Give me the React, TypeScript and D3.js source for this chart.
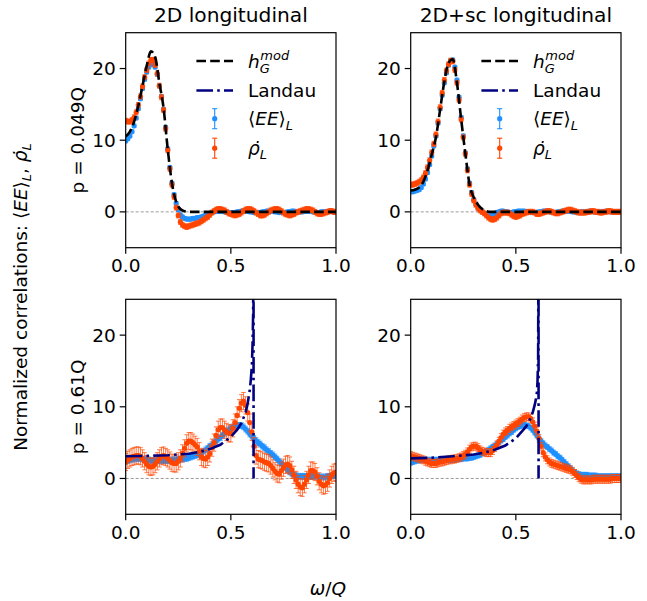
import React from "react";
import * as d3 from "d3";

// Frequency grid (ω/Q) shared by all measured series, step 0.01
const OMEGA = Array.from({ length: 101 }, (_, i) => +(i / 100).toFixed(2));

const X_TICKS = [0, 0.5, 1];
const X_TICK_LABELS = ["0.0", "0.5", "1.0"];
const Y_TICKS = [0, 10, 20];
const COL_TITLES = ["2D longitudinal", "2D+sc longitudinal"];
const ROW_LABELS = ["p = 0.049Q", "p = 0.61Q"];

// p = 0.049Q, 2D
const EE_TL = [
  9.9, 10.2, 10.6, 11.2, 12.0, 13.1, 14.4, 15.8, 17.2, 18.5,
  19.5, 20.2, 20.6, 20.6, 20.2, 19.2, 17.6, 16.1, 14.3, 11.8,
  8.8, 6.2, 4.0, 2.4, 1.2, 0.3, -0.4, -0.7, -0.9, -1.0,
  -1.0, -1.0, -0.9, -0.9, -0.8, -0.8, -0.7, -0.6, -0.5, -0.4,
  -0.2, -0.1, 0.0, 0.1, 0.1, 0.1, 0.1, 0.0, 0.0, -0.1,
  -0.1, -0.1, -0.1, 0.0, 0.0, 0.1, 0.1, 0.1, 0.1, 0.0,
  0.0, -0.1, -0.1, -0.1, -0.1, 0.0, 0.0, 0.1, 0.1, 0.1,
  0.1, 0.0, 0.0, -0.1, -0.1, -0.1, -0.1, 0.0, 0.0, 0.1,
  0.1, 0.0, 0.0, 0.0, 0.0, 0.1, 0.1, 0.1, 0.1, 0.0,
  0.0, -0.1, -0.1, 0.0, 0.0, 0.0, 0.0, 0.1, 0.1, 0.0,
  0.0,
];
const RHO_TL = [
  12.7, 12.6, 12.6, 12.8, 13.2, 13.9, 14.9, 16.1, 17.5, 18.8,
  19.8, 20.7, 21.2, 21.2, 20.5, 19.3, 17.6, 16.0, 14.2, 11.6,
  8.6, 6.0, 3.8, 2.1, 0.6, -0.5, -1.4, -1.8, -2.0, -2.1,
  -2.0, -1.9, -1.8, -1.7, -1.6, -1.5, -1.3, -1.1, -0.9, -0.7,
  -0.4, -0.1, 0.1, 0.3, 0.4, 0.4, 0.3, 0.2, 0.0, -0.2,
  -0.3, -0.4, -0.5, -0.4, -0.3, -0.1, 0.1, 0.3, 0.4, 0.4,
  0.3, 0.1, -0.1, -0.3, -0.5, -0.5, -0.4, -0.2, 0.0, 0.2,
  0.3, 0.4, 0.4, 0.3, 0.1, -0.1, -0.3, -0.4, -0.5, -0.4,
  -0.3, -0.1, 0.0, 0.1, 0.2, 0.3, 0.4, 0.4, 0.3, 0.2,
  0.0, -0.2, -0.3, -0.3, -0.2, -0.1, 0.0, 0.1, 0.1, 0.0,
  0.0,
];

// p = 0.049Q, 2D+sc
const EE_TR = [
  2.8, 2.8, 2.9, 3.0, 3.1, 3.4, 3.9, 4.6, 5.5, 6.6,
  7.8, 9.2, 10.6, 12.4, 14.4, 16.3, 18.0, 19.4, 20.5, 21.1,
  21.2, 20.2, 18.4, 16.0, 13.2, 10.6, 8.2, 6.0, 4.0, 2.7,
  1.7, 1.1, 0.6, 0.3, 0.0, -0.2, -0.3, -0.4, -0.5, -0.4,
  -0.3, -0.1, 0.0, 0.1, 0.1, 0.0, 0.0, -0.1, -0.1, 0.0,
  0.0, 0.1, 0.1, 0.1, 0.1, 0.0, 0.0, -0.1, -0.1, -0.1,
  -0.1, 0.0, 0.0, 0.1, 0.1, 0.1, 0.0, 0.0, -0.1, -0.1,
  0.0, 0.0, 0.1, 0.1, 0.1, 0.1, 0.1, 0.0, 0.0, -0.1,
  -0.1, 0.0, 0.0, 0.0, 0.0, 0.1, 0.1, 0.0, 0.0, 0.0,
  0.0, 0.0, 0.0, 0.1, 0.1, 0.0, 0.0, 0.0, 0.0, 0.0,
  0.0,
];
const RHO_TR = [
  3.8, 3.8, 3.9, 4.0, 4.2, 4.4, 4.8, 5.4, 6.2, 7.2,
  8.3, 9.5, 10.8, 12.6, 14.6, 16.6, 18.4, 19.7, 20.6, 21.1,
  21.0, 19.8, 18.0, 15.6, 12.9, 10.4, 8.1, 5.8, 3.8, 2.5,
  1.6, 1.0, 0.5, 0.2, 0.0, -0.2, -0.5, -0.8, -1.0, -1.1,
  -1.0, -0.8, -0.5, -0.2, -0.1, -0.1, -0.1, -0.2, -0.4, -0.6,
  -0.7, -0.6, -0.5, -0.3, -0.2, -0.1, 0.0, 0.0, 0.0, -0.1,
  -0.3, -0.3, -0.2, -0.1, 0.0, 0.1, 0.1, 0.0, -0.1, -0.2,
  -0.2, -0.1, 0.0, 0.1, 0.2, 0.3, 0.3, 0.2, 0.1, 0.0,
  -0.1, -0.1, -0.1, -0.1, 0.0, 0.0, 0.1, 0.1, 0.0, 0.0,
  -0.1, -0.1, 0.0, 0.0, 0.1, 0.1, 0.0, 0.0, 0.0, 0.0,
  0.0,
];

// Gaussian model fit h_G^mod (top row)
const HG_W = [0, 0.02, 0.04, 0.06, 0.08, 0.1, 0.12, 0.14, 0.16, 0.18, 0.2, 0.22, 0.24, 0.26, 0.28, 0.3, 0.32, 0.34, 0.36, 0.38, 0.4, 1.0];
const HG_TL = [10.5, 11.2, 12.6, 14.8, 17.6, 20.4, 22.4, 21.6, 18.0, 14.5, 8.7, 4.0, 1.4, 0.4, 0.1, 0, 0, 0, 0, 0, 0, 0];
const HG_TR = [3.0, 3.1, 3.4, 4.2, 5.8, 8.0, 10.4, 14.3, 18.2, 20.8, 21.3, 18.0, 12.9, 8.1, 3.8, 2.0, 1.0, 0.4, 0.1, 0.0, 0, 0];

// p = 0.61Q, 2D
const EE_BL = [
  2.4, 2.5, 2.6, 2.7, 2.7, 2.8, 2.8, 2.8, 2.7, 2.7,
  2.6, 2.6, 2.5, 2.5, 2.5, 2.5, 2.5, 2.5, 2.5, 2.5,
  2.5, 2.5, 2.6, 2.6, 2.6, 2.7, 2.7, 2.7, 2.8, 2.8,
  2.9, 3.0, 3.1, 3.2, 3.3, 3.4, 3.6, 3.8, 4.0, 4.2,
  4.5, 4.7, 5.0, 5.2, 5.5, 5.7, 6.0, 6.3, 6.6, 6.8,
  7.0, 7.2, 7.3, 7.4, 7.4, 7.4, 7.2, 6.9, 6.6, 6.2,
  5.9, 5.6, 5.3, 5.0, 4.8, 4.5, 4.3, 4.0, 3.8, 3.5,
  3.3, 3.0, 2.7, 2.4, 2.1, 1.8, 1.5, 1.2, 0.9, 0.7,
  0.5, 0.4, 0.3, 0.3, 0.3, 0.3, 0.3, 0.3, 0.3, 0.3,
  0.3, 0.3, 0.2, 0.2, 0.2, 0.2, 0.3, 0.3, 0.4, 0.4,
  0.5,
];
const RHO_BL = [
  2.3, 2.6, 2.8, 3.0, 3.1, 3.2, 3.2, 3.1, 2.8, 2.4,
  2.0, 1.7, 1.6, 1.7, 2.0, 2.4, 2.8, 3.1, 3.2, 3.0,
  2.8, 2.5, 2.2, 2.1, 2.1, 2.4, 2.8, 3.5, 4.2, 4.9,
  5.2, 5.2, 5.0, 4.7, 4.4, 3.8, 3.0, 2.8, 2.7, 3.0,
  3.5, 4.3, 5.0, 6.0, 6.8, 7.1, 7.1, 6.8, 6.5, 6.3,
  6.3, 7.0, 7.8, 8.8, 9.8, 10.5, 10.8, 10.2, 9.2, 7.8,
  6.5, 4.5, 3.2, 2.7, 2.6, 2.5, 2.3, 2.2, 2.1, 1.8,
  1.4, 1.0, 0.7, 0.6, 1.1, 1.5, 1.9, 2.0, 1.8, 1.2,
  0.5, -0.2, -0.8, -1.2, -1.3, -0.8, -0.2, 0.5, 1.1, 1.1,
  0.9, 0.3, -0.4, -0.8, -1.0, -0.9, -0.6, 0.0, 0.5, 0.8,
  0.9,
];

// p = 0.61Q, 2D+sc
const EE_BR = [
  2.2, 2.3, 2.4, 2.5, 2.5, 2.6, 2.6, 2.6, 2.6, 2.6,
  2.6, 2.6, 2.6, 2.6, 2.6, 2.6, 2.6, 2.6, 2.6, 2.6,
  2.6, 2.6, 2.7, 2.7, 2.7, 2.8, 2.8, 2.8, 2.9, 2.9,
  3.0, 3.1, 3.2, 3.3, 3.5, 3.6, 3.8, 4.0, 4.2, 4.4,
  4.6, 4.8, 5.1, 5.3, 5.5, 5.8, 6.0, 6.3, 6.5, 6.8,
  7.0, 7.2, 7.3, 7.4, 7.5, 7.4, 7.3, 7.1, 6.8, 6.4,
  6.0, 5.6, 5.2, 4.9, 4.6, 4.4, 4.1, 3.9, 3.6, 3.4,
  3.1, 2.9, 2.6, 2.3, 2.0, 1.7, 1.4, 1.1, 0.9, 0.7,
  0.6, 0.5, 0.5, 0.5, 0.5, 0.4, 0.4, 0.4, 0.4, 0.3,
  0.3, 0.3, 0.3, 0.3, 0.3, 0.3, 0.3, 0.3, 0.3, 0.3,
  0.3,
];
const RHO_BR = [
  3.2, 3.1, 3.0, 2.9, 2.8, 2.7, 2.6, 2.4, 2.3, 2.2,
  2.1, 2.1, 2.1, 2.2, 2.3, 2.3, 2.4, 2.5, 2.6, 2.6,
  2.7, 2.7, 2.8, 2.9, 3.0, 3.2, 3.4, 3.7, 4.1, 4.4,
  4.5, 4.5, 4.3, 4.0, 3.8, 3.7, 3.6, 3.6, 3.6, 3.9,
  4.3, 4.7, 5.2, 5.7, 6.2, 6.5, 6.7, 7.0, 7.2, 7.4,
  7.6, 7.8, 8.0, 8.3, 8.5, 8.6, 8.6, 8.4, 7.9, 7.3,
  6.6, 5.6, 4.5, 3.6, 3.0, 2.6, 2.3, 2.1, 2.0, 1.9,
  1.8, 1.7, 1.6, 1.5, 1.4, 1.3, 1.2, 1.0, 0.7, 0.4,
  0.1, -0.1, -0.2, -0.2, -0.2, -0.2, -0.2, -0.1, -0.1, -0.1,
  -0.1, -0.1, -0.1, -0.1, -0.1, -0.1, 0.0, 0.0, 0.0, 0.0,
  0.0,
];

// Landau-damping curve, cut off at ω = p
const LANDAU_W = [0, 0.1, 0.2, 0.3, 0.35, 0.4, 0.45, 0.5, 0.53, 0.55, 0.57, 0.58, 0.59, 0.595, 0.6, 0.603, 0.606, 0.608, 0.608];
const LANDAU_BL = [3.1, 3.15, 3.25, 3.45, 3.7, 4.1, 4.7, 5.8, 6.8, 7.7, 9.2, 10.5, 12.3, 13.8, 15.8, 18.5, 23, 40, 0];
const LANDAU_BR = [2.8, 2.9, 3.1, 3.35, 3.6, 4.0, 4.6, 5.6, 6.6, 7.3, 8.4, 9.2, 10.3, 11.0, 12.0, 13.5, 17, 40, 0];

// Statistical error half-widths per panel (TL, TR, BL, BR)
const ERR_EE = [0.25, 0.25, 0.4, 0.35];
const ERR_RHO = [0.35, 0.35, 1.2, 0.55];

const W = 647;
const H = 601;
const LEFTS = [125.7, 410.7];
const TOPS = [32.7, 299.3];
const PW = 210.3;
const PH = 215;
const FONT = "DejaVu Sans";
const FS = 18.5;
const BLUE = "#1e90ff";
const RED = "#ff4500";
const NAVY = "#000080";

const PANELS = [
  { key: "tl", col: 0, row: 0, ee: EE_TL, rho: RHO_TL, hg: HG_TL, landau: null as number[] | null, i: 0 },
  { key: "tr", col: 1, row: 0, ee: EE_TR, rho: RHO_TR, hg: HG_TR, landau: null as number[] | null, i: 1 },
  { key: "bl", col: 0, row: 1, ee: EE_BL, rho: RHO_BL, hg: null as number[] | null, landau: LANDAU_BL, i: 2 },
  { key: "br", col: 1, row: 1, ee: EE_BR, rho: RHO_BR, hg: null as number[] | null, landau: LANDAU_BR, i: 3 },
];

function ErrorSeries({ vals, err, color, x, y }: any) {
  return (
    <g>
      <g stroke={color} strokeWidth={0.9} strokeOpacity={0.8}>
        {vals.map((v: number, i: number) => {
          const cx = x(OMEGA[i]);
          const y0 = y(v - err);
          const y1 = y(v + err);
          return (
            <g key={i}>
              <line x1={cx} x2={cx} y1={y0} y2={y1} />
              <line x1={cx - 2.3} x2={cx + 2.3} y1={y0} y2={y0} />
              <line x1={cx - 2.3} x2={cx + 2.3} y1={y1} y2={y1} />
            </g>
          );
        })}
      </g>
      <g fill={color}>
        {vals.map((v: number, i: number) => (
          <circle key={i} cx={x(OMEGA[i])} cy={y(v)} r={2.6} />
        ))}
      </g>
    </g>
  );
}

function Legend({ left, top }: { left: number; top: number }) {
  const lx0 = left + 70.7;
  const lx1 = left + 107.3;
  const mx = (lx0 + lx1) / 2;
  const tx = left + 122.3;
  const rows = [top + 28.3, top + 57.8, top + 86, top + 115.5];
  const sub = 13;
  return (
    <g fontFamily={FONT} fontSize={FS}>
      <line x1={lx0} x2={lx1} y1={rows[0]} y2={rows[0]} stroke="black" strokeWidth={2.6} strokeDasharray="9.6,4.2" />
      <text x={tx} y={rows[0] + 7}>
        <tspan fontStyle="italic">h</tspan>
        <tspan fontStyle="italic" fontSize={sub} dy={4.5}>G</tspan>
        <tspan fontStyle="italic" fontSize={sub} dx={-9.5} dy={-13}>mod</tspan>
      </text>
      <line x1={lx0} x2={lx1} y1={rows[1]} y2={rows[1]} stroke={NAVY} strokeWidth={2.6} strokeDasharray="16.6,4.2,2.6,4.2" />
      <text x={tx} y={rows[1] + 6.5}>Landau</text>
      {[{ c: BLUE, r: rows[2] }, { c: RED, r: rows[3] }].map((h, k) => (
        <g key={k} stroke={h.c} strokeWidth={1.1}>
          <line x1={mx} x2={mx} y1={h.r - 10} y2={h.r + 10} />
          <line x1={mx - 2.5} x2={mx + 2.5} y1={h.r - 10} y2={h.r - 10} />
          <line x1={mx - 2.5} x2={mx + 2.5} y1={h.r + 10} y2={h.r + 10} />
          <circle cx={mx} cy={h.r} r={2.6} fill={h.c} stroke="none" />
        </g>
      ))}
      <text x={tx} y={rows[2] + 6.5}>
        {"⟨"}
        <tspan fontStyle="italic">EE</tspan>
        {"⟩"}
        <tspan fontStyle="italic" fontSize={sub} dy={4.5}>L</tspan>
      </text>
      <text x={tx} y={rows[3] + 6.5}>
        <tspan fontStyle="italic">{"ρ\u0307"}</tspan>
        <tspan fontStyle="italic" fontSize={sub} dy={4.5}>L</tspan>
      </text>
    </g>
  );
}

function Panel({ p }: any) {
  const left = LEFTS[p.col];
  const top = TOPS[p.row];
  const x = d3.scaleLinear().domain([0, 1]).range([left, left + PW]);
  const y = d3.scaleLinear().domain([-5, 25]).range([top + PH, top]);
  const clipId = `clip-${p.key}`;
  const smooth = d3
    .line<number>()
    .x((_, i) => x(HG_W[i]))
    .y((d) => y(d))
    .curve(d3.curveMonotoneX);
  const landauLine = d3
    .line<number>()
    .x((_, i) => x(LANDAU_W[i]))
    .y((d) => y(d));
  const bottom = top + PH;
  return (
    <g>
      <clipPath id={clipId}>
        <rect x={left} y={top} width={PW} height={PH} />
      </clipPath>
      <g clipPath={`url(#${clipId})`}>
        <line x1={left} x2={left + PW} y1={y(0)} y2={y(0)} stroke="#808080" strokeWidth={0.8} strokeDasharray="3,2" />
        <ErrorSeries vals={p.ee} err={ERR_EE[p.i]} color={BLUE} x={x} y={y} />
        <ErrorSeries vals={p.rho} err={ERR_RHO[p.i]} color={RED} x={x} y={y} />
        {p.hg && (
          <path d={smooth(p.hg) || ""} fill="none" stroke="black" strokeWidth={2.6} strokeDasharray="9.6,4.2" />
        )}
        {p.landau && (
          <path d={landauLine(p.landau) || ""} fill="none" stroke={NAVY} strokeWidth={2.6} strokeDasharray="16.6,4.2,2.6,4.2" />
        )}
      </g>
      <rect x={left} y={top} width={PW} height={PH} fill="none" stroke="black" strokeWidth={1.2} />
      <g fontFamily={FONT} fontSize={FS} fill="black">
        {X_TICKS.map((t, k) => (
          <g key={k}>
            <line x1={x(t)} x2={x(t)} y1={bottom} y2={bottom + 6} stroke="black" strokeWidth={1.2} />
            <text x={x(t)} y={bottom + 24.5} textAnchor="middle">{X_TICK_LABELS[k]}</text>
          </g>
        ))}
        {Y_TICKS.map((t) => (
          <g key={t}>
            <line x1={left - 6} x2={left} y1={y(t)} y2={y(t)} stroke="black" strokeWidth={1.2} />
            <text x={left - 10} y={y(t)} dy="0.35em" textAnchor="end">{t}</text>
          </g>
        ))}
      </g>
      {p.row === 0 && (
        <text x={left + PW / 2} y={top - 11} textAnchor="middle" fontFamily={FONT} fontSize={20.2}>
          {COL_TITLES[p.col]}
        </text>
      )}
      {p.col === 0 && (
        <text
          transform={`translate(83.5,${top + PH / 2}) rotate(-90)`}
          textAnchor="middle"
          fontFamily={FONT}
          fontSize={FS}
        >
          {ROW_LABELS[p.row]}
        </text>
      )}
      {p.row === 0 && <Legend left={left} top={top} />}
    </g>
  );
}

export default function App() {
  const sub = 13;
  return (
    <svg
      width={W}
      height={H}
      viewBox={`0 0 ${W} ${H}`}
      style={{ position: "absolute", left: 0, top: 0, background: "white" }}
    >
      <rect x={0} y={0} width={W} height={H} fill="white" />
      {PANELS.map((p) => (
        <Panel key={p.key} p={p} />
      ))}
      <text
        transform="translate(26.5,297) rotate(-90)"
        textAnchor="middle"
        fontFamily={FONT}
        fontSize={FS}
      >
        {"Normalized correlations: ⟨"}
        <tspan fontStyle="italic">EE</tspan>
        {"⟩"}
        <tspan fontStyle="italic" fontSize={sub} dy={4.5}>L</tspan>
        <tspan dy={-4.5}>{", "}</tspan>
        <tspan fontStyle="italic">{"ρ\u0307"}</tspan>
        <tspan fontStyle="italic" fontSize={sub} dy={4.5}>L</tspan>
      </text>
      <text x={328} y={595} textAnchor="middle" fontFamily={FONT} fontSize={FS}>
        <tspan fontStyle="italic">ω</tspan>
        {"/"}
        <tspan fontStyle="italic">Q</tspan>
      </text>
    </svg>
  );
}
